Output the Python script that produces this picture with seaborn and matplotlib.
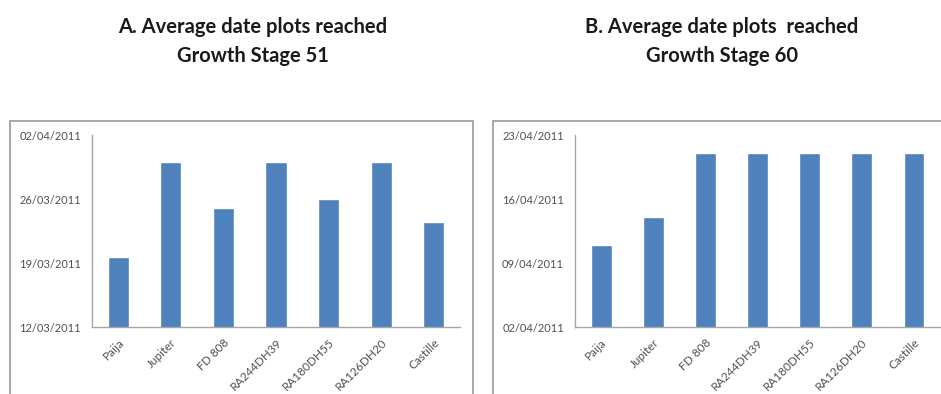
import matplotlib
matplotlib.use("Agg")
import matplotlib.pyplot as plt
import matplotlib.dates as mdates
from matplotlib.patches import Rectangle
from matplotlib.ticker import FixedLocator
import pandas as pd
import seaborn as sns

# Varieties assessed
varieties = ["Paija", "Jupiter", "FD 808", "RA244DH39", "RA180DH55", "RA126DH20", "Castille"]

# Average date each variety reached Growth Stage 51
gs51_dates = ["2011-03-19 17:00", "2011-03-30 00:00", "2011-03-25 00:00", "2011-03-30 00:00",
              "2011-03-26 00:00", "2011-03-30 00:00", "2011-03-23 12:00"]
gs51_ticks = ["2011-03-12", "2011-03-19", "2011-03-26", "2011-04-02"]

# Average date each variety reached Growth Stage 60
gs60_dates = ["2011-04-11", "2011-04-14", "2011-04-21", "2011-04-21",
              "2011-04-21", "2011-04-21", "2011-04-21"]
gs60_ticks = ["2011-04-02", "2011-04-09", "2011-04-16", "2011-04-23"]

titles = [("A. Average date plots reached", "Growth Stage 51"),
          ("B. Average date plots  reached", "Growth Stage 60")]

BAR = "#4F81BD"
AXIS = "#A6A6A6"
TEXT = "#505050"
FRAME = "#A0A0A0"

sns.set_theme(style="white")
plt.rcParams["font.family"] = ["Lato", "DejaVu Sans"]

W, H = 941, 394
fig = plt.figure(figsize=(W / 100, H / 100), dpi=100)


def fx(px):
    return px / W


def fy(py):
    return 1 - py / H


def to_num(values):
    return mdates.date2num(pd.to_datetime(values, format="ISO8601"))


# chart frames
for x0, x1 in [(10, 473), (493, 950)]:
    fig.patches.append(Rectangle((fx(x0), fy(400)), fx(x1 - x0), fy(121) - fy(400),
                                 transform=fig.transFigure, fill=False,
                                 edgecolor=FRAME, linewidth=1.3, zorder=0))

axes_px = [(92, 460), (575, 940)]
title_cx = [253, 722]
panels = [(gs51_dates, gs51_ticks), (gs60_dates, gs60_ticks)]

for (x0, x1), cx, (dates, ticks), (line1, line2) in zip(axes_px, title_cx, panels, titles):
    ax = fig.add_axes([fx(x0), fy(327), fx(x1 - x0), fy(135) - fy(327)])
    df = pd.DataFrame({"variety": varieties, "date": to_num(dates)})
    sns.barplot(data=df, x="variety", y="date", color=BAR, saturation=1,
                width=0.4, ax=ax, zorder=2)
    tick_nums = to_num(ticks)
    ax.set_ylim(tick_nums[0], tick_nums[-1])
    ax.set_yticks(tick_nums)
    ax.yaxis.set_major_formatter(mdates.DateFormatter("%d/%m/%Y"))
    ax.set_xlim(-0.5, len(varieties) - 0.5)
    ax.set_xlabel("")
    ax.set_ylabel("")

    # category boundary ticks on the x axis
    ax.xaxis.set_minor_locator(FixedLocator([i - 0.5 for i in range(len(varieties) + 1)]))
    ax.tick_params(axis="x", which="major", length=0, pad=7)
    ax.tick_params(axis="x", which="minor", length=4, width=0.8, color=AXIS, direction="out")
    ax.tick_params(axis="y", length=5, width=0.8, color=AXIS, direction="out", pad=3)
    ax.tick_params(labelsize=8, labelcolor=TEXT)
    for lbl in ax.get_xticklabels():
        lbl.set_rotation(45)
        lbl.set_ha("right")
        lbl.set_rotation_mode("anchor")
        lbl.set_fontsize(8.5)

    for side in ["top", "right"]:
        ax.spines[side].set_visible(False)
    for side in ["left", "bottom"]:
        ax.spines[side].set_color(AXIS)
        ax.spines[side].set_linewidth(1.0)
    ax.patch.set_alpha(0)

    for text, ypx in [(line1, 25), (line2, 54)]:
        fig.text(fx(cx), fy(ypx), text, ha="center", va="center_baseline", fontsize=14.5,
                 fontweight="bold", color="#1a1a1a")

fig.savefig("out.png", dpi=100)
